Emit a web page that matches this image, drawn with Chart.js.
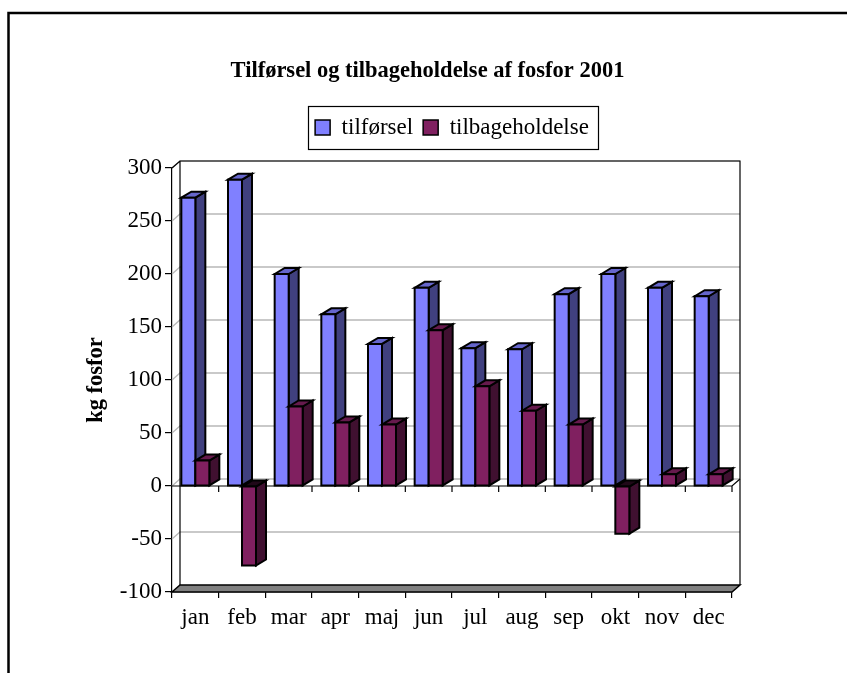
<!DOCTYPE html>
<html>
<head>
<meta charset="utf-8">
<script src="https://cdn.jsdelivr.net/npm/chart.js@4.4.0/dist/chart.umd.min.js"></script>
<style>
  html, body { margin: 0; padding: 0; background: #fff; }
</style>
</head>
<body>
<canvas id="fosforChart" width="847" height="673"></canvas>
<script>
const months = ['jan', 'feb', 'mar', 'apr', 'maj', 'jun', 'jul', 'aug', 'sep', 'okt', 'nov', 'dec'];
const tilforsel = [272, 289, 200, 162, 134, 187, 130, 129, 181, 200, 187, 179];
const tilbageholdelse = [24, -75, 75, 60, 58, 147, 94, 71, 58, -45, 11, 11];
const yTicks = [-100, -50, 0, 50, 100, 150, 200, 250, 300];

const serif = 'Liberation Serif';

// depth of the bars and of the walls (pseudo 3D, like the Excel original)
const DX = 10, DY = 6;
const WX = 8, WY = 7;

const faces = [
  { front: '#8080ff', side: '#40407f', top: '#6666cc', under: '#20203f' },
  { front: '#802060', side: '#401030', top: '#661a4d', under: '#200818' }
];

function poly(ctx, pts, fill) {
  ctx.beginPath();
  ctx.moveTo(pts[0][0], pts[0][1]);
  for (let i = 1; i < pts.length; i++) ctx.lineTo(pts[i][0], pts[i][1]);
  ctx.closePath();
  if (fill) { ctx.fillStyle = fill; ctx.fill(); }
  ctx.stroke();
}

const depthPlugin = {
  id: 'depth',
  afterLayout(chart) {
    // title sits a bit right of the full width centre
    chart.titleBlock.left += 22;
    chart.titleBlock.right += 22;
  },
  beforeDatasetsDraw(chart) {
    const { ctx, chartArea: a, scales: { x, y } } = chart;
    ctx.save();

    // gridlines on the side wall and back wall
    ctx.strokeStyle = '#b8b8b8';
    ctx.lineWidth = 1.3;
    yTicks.forEach(v => {
      if (v === yTicks[0]) return;
      const py = y.getPixelForValue(v);
      ctx.beginPath();
      ctx.moveTo(a.left, py);
      ctx.lineTo(a.left + WX, py - WY);
      ctx.lineTo(a.right + WX, py - WY);
      ctx.stroke();
    });

    // wall outline
    ctx.strokeStyle = '#000';
    ctx.lineWidth = 1.2;
    ctx.beginPath();
    ctx.moveTo(a.left, a.top);
    ctx.lineTo(a.left + WX, a.top - WY);
    ctx.lineTo(a.right + WX, a.top - WY);
    ctx.lineTo(a.right + WX, a.bottom - WY);
    ctx.moveTo(a.left + WX, a.top - WY);
    ctx.lineTo(a.left + WX, a.bottom - WY);
    ctx.stroke();

    // floor slab
    ctx.lineWidth = 1.5;
    poly(ctx, [[a.left, a.bottom], [a.right, a.bottom], [a.right + WX, a.bottom - WY], [a.left + WX, a.bottom - WY]], '#808080');

    // zero plane edge with its category ticks
    const y0 = y.getPixelForValue(0);
    ctx.lineWidth = 1.2;
    ctx.beginPath();
    ctx.moveTo(a.left, y0);
    ctx.lineTo(a.right, y0);
    ctx.lineTo(a.right + WX, y0 - WY);
    for (let i = 1; i <= months.length; i++) {
      const px = x.getPixelForValue(i - 0.5);
      ctx.moveTo(px, y0);
      ctx.lineTo(px, y0 + 6);
    }
    ctx.stroke();

    // bars: side, top, front
    ctx.lineWidth = 2;
    ctx.lineJoin = 'miter';
    const metas = [chart.getDatasetMeta(0), chart.getDatasetMeta(1)];
    for (let i = 0; i < months.length; i++) {
      metas.forEach((meta, d) => {
        const bar = meta.data[i];
        const c = faces[d];
        const l = bar.x - bar.width / 2, r = bar.x + bar.width / 2;
        const top = Math.min(bar.y, bar.base), bot = Math.max(bar.y, bar.base);
        const neg = bar.y > bar.base;
        poly(ctx, [[r, top], [r + DX, top - DY], [r + DX, bot - DY], [r, bot]], c.side);
        poly(ctx, [[l, top], [l + DX, top - DY], [r + DX, top - DY], [r, top]], neg ? c.under : c.top);
        poly(ctx, [[l, top], [r, top], [r, bot], [l, bot]], c.front);
      });
    }
    ctx.restore();
    return false;
  },
  afterDraw(chart) {
    const ctx = chart.ctx;
    ctx.save();
    // outer frame (only top and left visible)
    ctx.strokeStyle = '#000';
    ctx.lineWidth = 2.5;
    ctx.beginPath();
    ctx.moveTo(8.5, 673);
    ctx.lineTo(8.5, 13);
    ctx.lineTo(847, 13);
    ctx.stroke();

    // legend frame
    const lg = chart.legend;
    const boxes = lg.legendHitBoxes;
    const left = Math.min(...boxes.map(b => b.left)) - 7;
    const right = Math.max(...boxes.map(b => b.left + b.width)) + 9;
    ctx.lineWidth = 1.2;
    ctx.strokeStyle = '#000';
    ctx.strokeRect(Math.round(left) + 0.5, Math.round(lg.top) + 0.5, Math.round(right - left), Math.round(lg.bottom - lg.top));
    ctx.restore();
  }
};

new Chart(document.getElementById('fosforChart'), {
  type: 'bar',
  data: {
    labels: months,
    datasets: [
      {
        label: 'tilførsel',
        data: tilforsel,
        backgroundColor: faces[0].front,
        borderColor: '#000',
        borderWidth: 1.5
      },
      {
        label: 'tilbageholdelse',
        data: tilbageholdelse,
        backgroundColor: faces[1].front,
        borderColor: '#000',
        borderWidth: 1.5
      }
    ]
  },
  options: {
    responsive: false,
    animation: false,
    categoryPercentage: 0.6,
    barPercentage: 1.0,
    layout: { padding: { left: 79, right: 115, top: 0, bottom: 0 } },
    plugins: {
      title: {
        display: true,
        text: 'Tilførsel og tilbageholdelse af fosfor 2001',
        color: '#000',
        font: { family: serif, size: 22.5, weight: 'bold' },
        padding: { top: 57.5, bottom: 21.5 }
      },
      subtitle: {
        // spacer between legend and plot
        display: true,
        text: '',
        weight: 500,
        font: { size: 1 },
        padding: { top: 17.8, bottom: 0 }
      },
      legend: {
        display: true,
        position: 'top',
        fullSize: false,
        labels: {
          color: '#000',
          font: { family: serif, size: 23 },
          boxWidth: 15,
          boxHeight: 15,
          padding: 10
        }
      },
      tooltip: { enabled: false }
    },
    scales: {
      x: {
        afterFit(scale) { scale.height = 81; },
        grid: { drawOnChartArea: false, drawTicks: true, tickLength: 6, color: '#000', lineWidth: 1.2 },
        border: { display: true, color: '#000', width: 1.2 },
        ticks: { color: '#000', font: { family: serif, size: 23 }, padding: 6, maxRotation: 0 }
      },
      y: {
        min: -100,
        max: 300,
        afterFit(scale) { scale.width = 93; },
        ticks: { stepSize: 50, color: '#000', font: { family: serif, size: 23 }, padding: 3 },
        grid: { drawOnChartArea: false, drawTicks: true, tickLength: 7, color: '#000', lineWidth: 1.2 },
        border: { display: true, color: '#000', width: 1.2 },
        title: {
          display: true,
          text: 'kg fosfor',
          color: '#000',
          font: { family: serif, size: 22.5, weight: 'bold' },
          padding: { top: 4, bottom: 4 }
        }
      }
    }
  },
  plugins: [depthPlugin]
});
</script>
</body>
</html>
